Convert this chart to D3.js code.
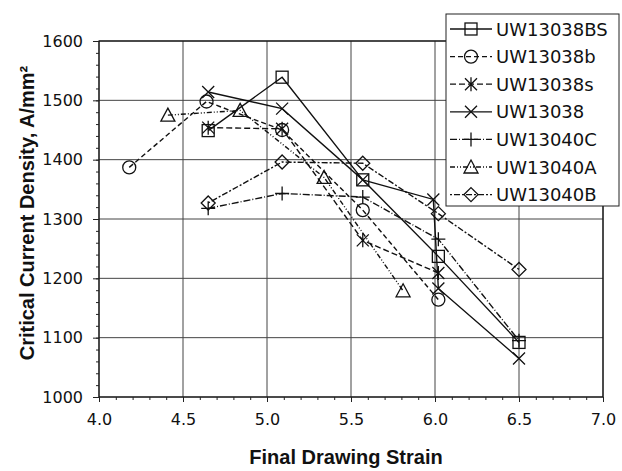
<!DOCTYPE html>
<html>
<head>
<meta charset="utf-8">
<script src="https://cdn.jsdelivr.net/npm/d3@7"></script>
<style>
  body { margin: 0; background: #fff; }
  svg { display: block; }
  .tick-label { font-family: "DejaVu Sans", sans-serif; font-size: 16px; fill: #111; }
  .axis-title { font-family: "Liberation Sans", Arial, sans-serif; font-size: 20px; font-weight: bold; fill: #111; }
  .legend-label { font-family: "DejaVu Sans", sans-serif; font-size: 18px; fill: #111; }
</style>
</head>
<body>
<div id="svg-container"></div>
<script>
// data
const seriesNames = ["UW13038BS", "UW13038b", "UW13038s", "UW13038", "UW13040C", "UW13040A", "UW13040B"];

const uw13038BS = [[4.65, 1449], [5.09, 1539], [5.57, 1366], [6.02, 1237], [6.5, 1092]];
const uw13038b = [[4.18, 1387], [4.64, 1498], [5.09, 1450], [5.57, 1315], [6.02, 1164]];
const uw13038s = [[4.65, 1454], [5.09, 1452], [5.57, 1264], [6.02, 1209]];
const uw13038 = [[4.65, 1514], [5.09, 1486], [5.57, 1366], [5.99, 1333], [6.02, 1183], [6.5, 1065]];
const uw13040C = [[4.65, 1318], [5.09, 1343], [5.57, 1337], [6.02, 1266], [6.5, 1095]];
const uw13040A = [[4.41, 1475], [4.84, 1483], [5.34, 1370], [5.81, 1179]];
const uw13040B = [[4.65, 1327], [5.09, 1396], [5.57, 1394], [6.02, 1309], [6.5, 1215]];

const xTicks = [4.0, 4.5, 5.0, 5.5, 6.0, 6.5, 7.0];
const yTicks = [1000, 1100, 1200, 1300, 1400, 1500, 1600];

const allSeries = [uw13038BS, uw13038b, uw13038s, uw13038, uw13040C, uw13040A, uw13040B];
const markers = ["square", "circle", "asterisk", "cross", "plus", "triangle", "diamond"];
const dashes = [null, "5,3", "6,3", null, "7,2,1,2", "5,2,1,2,1,2", "2,2,6,2"];

////////////////////////////  Init  ///////////////////////////////
const width = 622;
const height = 471;
const plot = { left: 99, right: 603, top: 41, bottom: 397 };

const svg = d3.select("#svg-container").append("svg")
  .attr("width", width).attr("height", height);

const xScale = d3.scaleLinear().domain([4, 7]).range([plot.left, plot.right]);
const yScale = d3.scaleLinear().domain([1000, 1600]).range([plot.bottom, plot.top]);

// grid
svg.append("g").selectAll("line")
  .data(yTicks)
  .join("line")
  .attr("x1", plot.left).attr("x2", plot.right)
  .attr("y1", d => yScale(d)).attr("y2", d => yScale(d))
  .attr("stroke", "#444").attr("stroke-width", 1);

svg.append("g").selectAll("line")
  .data(xTicks)
  .join("line")
  .attr("x1", d => xScale(d)).attr("x2", d => xScale(d))
  .attr("y1", plot.top).attr("y2", plot.bottom)
  .attr("stroke", "#444").attr("stroke-width", 1);

// frame
svg.append("rect")
  .attr("x", plot.left).attr("y", plot.top)
  .attr("width", plot.right - plot.left).attr("height", plot.bottom - plot.top)
  .attr("fill", "none").attr("stroke", "#111").attr("stroke-width", 1.2);

// axes (ticks + labels)
const xAxis = d3.axisBottom(xScale)
  .tickValues(xTicks).tickSize(5).tickPadding(12)
  .tickFormat(d3.format(".1f"));
const xMinor = d3.axisBottom(xScale)
  .tickValues(d3.range(41, 70).map(d => d / 10)).tickSize(3).tickFormat("");

svg.append("g").attr("transform", `translate(0,${plot.bottom})`).call(xMinor)
  .call(g => g.select(".domain").remove());
svg.append("g").attr("class", "x-axis").attr("transform", `translate(0,${plot.bottom})`).call(xAxis)
  .call(g => g.select(".domain").remove());

const yAxis = d3.axisLeft(yScale)
  .tickValues(yTicks).tickSize(6).tickPadding(10)
  .tickFormat(d3.format("d"));
const yMinor = d3.axisLeft(yScale)
  .tickValues(d3.range(1020, 1600, 20)).tickSize(3).tickFormat("");

svg.append("g").attr("transform", `translate(${plot.left},0)`).call(yMinor)
  .call(g => g.select(".domain").remove());
svg.append("g").attr("class", "y-axis").attr("transform", `translate(${plot.left},0)`).call(yAxis)
  .call(g => g.select(".domain").remove());

svg.selectAll(".x-axis text, .y-axis text")
  .attr("class", "tick-label")
  .attr("font-family", null).attr("font-size", null);
svg.selectAll(".tick line").attr("stroke", "#222");

// titles
svg.append("text")
  .attr("class", "axis-title")
  .attr("x", 346).attr("y", 464)
  .style("text-anchor", "middle")
  .text("Final Drawing Strain");

svg.append("text")
  .attr("class", "axis-title")
  .attr("transform", "translate(34,213) rotate(-90)")
  .style("text-anchor", "middle")
  .text("Critical Current Density, A/mm²");

////////////////////////////  Markers  ////////////////////////////
function drawMarker(g, type, x, y) {
  const s = 6;
  const st = { stroke: "#111", "stroke-width": 1.3, fill: "none" };
  let el;
  if (type === "square") {
    el = g.append("rect").attr("x", x - s).attr("y", y - s).attr("width", 2 * s).attr("height", 2 * s);
  } else if (type === "circle") {
    el = g.append("circle").attr("cx", x).attr("cy", y).attr("r", s + 0.5);
  } else if (type === "cross") {
    el = g.append("path").attr("d", `M${x - s},${y - s}L${x + s},${y + s}M${x - s},${y + s}L${x + s},${y - s}`);
  } else if (type === "asterisk") {
    el = g.append("path").attr("d",
      `M${x - s},${y - s}L${x + s},${y + s}M${x - s},${y + s}L${x + s},${y - s}M${x},${y - s - 1}L${x},${y + s + 1}`);
  } else if (type === "plus") {
    el = g.append("path").attr("d", `M${x - s - 1},${y}L${x + s + 1},${y}M${x},${y - s - 1}L${x},${y + s + 1}`);
  } else if (type === "triangle") {
    el = g.append("path").attr("d", `M${x},${y - s - 1}L${x + s + 1},${y + s}L${x - s - 1},${y + s}Z`);
  } else if (type === "diamond") {
    el = g.append("path").attr("d", `M${x},${y - s - 1}L${x + s + 1},${y}L${x},${y + s + 1}L${x - s - 1},${y}Z`);
  }
  Object.entries(st).forEach(([k, v]) => el.attr(k, v));
}

const line = d3.line().x(d => xScale(d[0])).y(d => yScale(d[1]));

allSeries.forEach((data, i) => {
  svg.append("path")
    .datum(data)
    .attr("d", line)
    .attr("fill", "none")
    .attr("stroke", "#111")
    .attr("stroke-width", 1.4)
    .attr("stroke-dasharray", dashes[i]);
  const g = svg.append("g");
  data.forEach(d => drawMarker(g, markers[i], xScale(d[0]), yScale(d[1])));
});

////////////////////////////  Legend  ////////////////////////////
const legend = svg.append("g");
legend.append("rect")
  .attr("x", 446).attr("y", 14)
  .attr("width", 173).attr("height", 192)
  .attr("fill", "#fff").attr("stroke", "#222").attr("stroke-width", 1);

seriesNames.forEach((name, i) => {
  const cy = 29 + i * 27.6;
  legend.append("line")
    .attr("x1", 450).attr("x2", 492)
    .attr("y1", cy).attr("y2", cy)
    .attr("stroke", "#111").attr("stroke-width", 1.3)
    .attr("stroke-dasharray", dashes[i]);
  drawMarker(legend, markers[i], 471, cy);
  legend.append("text")
    .attr("class", "legend-label")
    .attr("x", 496).attr("y", cy + 6.5)
    .text(name);
});
</script>
</body>
</html>
